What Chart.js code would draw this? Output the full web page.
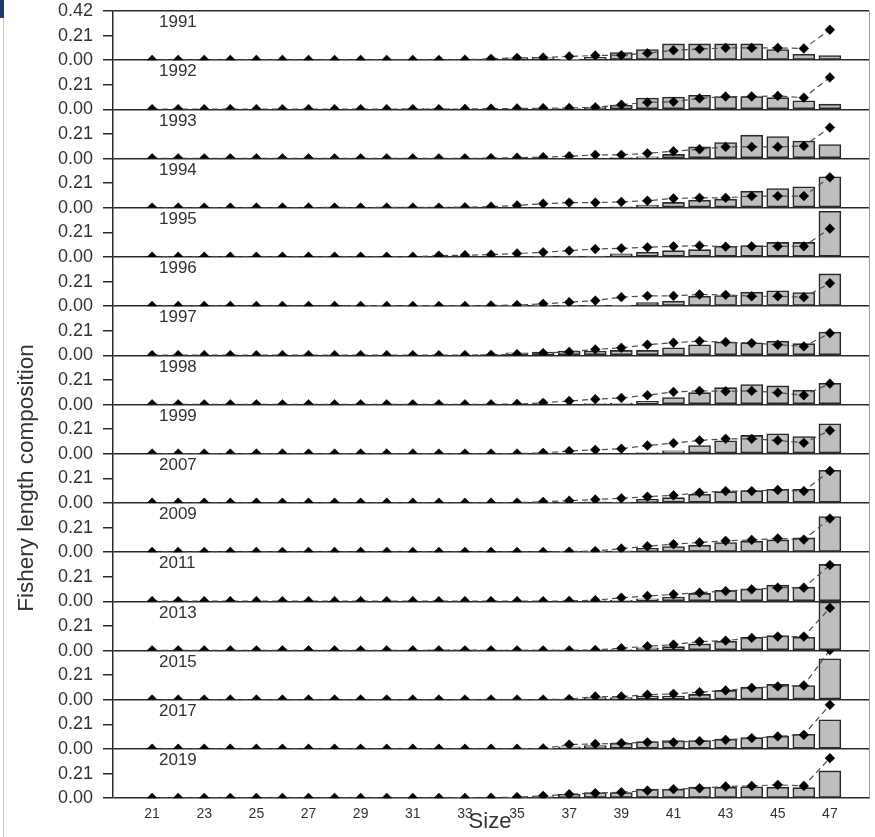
<!DOCTYPE html>
<html>
<head>
<meta charset="utf-8">
<title>Fishery length composition</title>
<script src="https://cdn.jsdelivr.net/npm/chart.js@4.4.1/dist/chart.umd.min.js"></script>
<style>
  html, body { margin: 0; padding: 0; background: #fff; }
  #wrap { position: relative; width: 875px; height: 837px; overflow: hidden; background: #fff; }
  #wrap canvas { position: absolute; left: 0; top: 0; }
  .txt { position: absolute; font-family: "Liberation Sans", Arial, sans-serif; color: #333; white-space: nowrap; }
  #ytitle { width: 320px; height: 22px; line-height: 22px; font-size: 22.5px; text-align: center;
            left: -134.5px; top: 467px; transform: rotate(-90deg); }
  #xtitle { width: 80px; height: 22px; line-height: 22px; font-size: 22px; text-align: center;
            left: 450px; top: 810px; }
  #mark { position: absolute; left: 0; top: 0; width: 4px; height: 18px; background: #1d3a6e; }
  #edge { position: absolute; left: 3px; top: 18px; width: 1px; height: 819px; background: #c9c9c9; }
</style>
</head>
<body>
<div id="wrap">
  <div id="mark"></div>
  <div id="edge"></div>
  <div class="txt" id="ytitle">Fishery length composition</div>
  <div class="txt" id="xtitle">Size</div>
</div>
<script>
// Length classes on the x axis and the labelled ticks
const sizes = [21,22,23,24,25,26,27,28,29,30,31,32,33,34,35,36,37,38,39,40,41,42,43,44,45,46,47];
const xTickLabels = [21,23,25,27,29,31,33,35,37,39,41,43,45,47];
const yTickValues = [0, 0.21, 0.42];
const years = ['1991','1992','1993','1994','1995','1996','1997','1998','1999','2007','2009','2011','2013','2015','2017','2019'];

// Observed proportions (bars) and predicted proportions (diamonds), sizes 21..47
const obs1991  = [0,0,0,0,0,0,0,0,0,0,0,0,0, 0,0.02,0.02,0.008,0.025,0.065,0.091,0.139,0.139,0.139,0.139,0.091,0.051,0.04];
const pred1991 = [0.002,0.002,0.002,0.002,0.002,0.002,0.002,0.002,0.002,0.002,0.002,0.002, 0.004,0.012,0.02,0.022,0.032,0.04,0.043,0.06,0.085,0.095,0.105,0.105,0.105,0.1,0.26];

const obs1992  = [0,0,0,0,0,0,0,0,0,0, 0.008,0.008,0,0,0.008,0.008,0.008,0.02,0.035,0.097,0.105,0.12,0.11,0.11,0.1,0.074,0.045];
const pred1992 = [0.002,0.002,0.002,0.002,0.002,0.002,0.002,0.002,0.002,0.002,0.002,0.002, 0.004,0.006,0.008,0.01,0.012,0.018,0.04,0.06,0.065,0.094,0.11,0.11,0.115,0.1,0.273];

const obs1993  = [0,0,0,0,0,0,0,0,0,0,0,0,0,0,0,0,0,0, 0.008,0.015,0.036,0.1,0.137,0.2,0.188,0.15,0.12];
const pred1993 = [0.002,0.002,0.002,0.002,0.002,0.002,0.002,0.002,0.002,0.002,0.002,0.002,0.002, 0.004,0.008,0.012,0.02,0.032,0.032,0.045,0.063,0.08,0.1,0.1,0.1,0.108,0.265];

const obs1994  = [0,0,0,0,0,0,0, 0.008,0,0.008,0.008,0.008,0.008,0,0,0,0,0,0.008,0.023,0.046,0.065,0.074,0.142,0.165,0.18,0.265];
const pred1994 = [0.002,0.002,0.002,0.002,0.002,0.002,0.002,0.002,0.002,0.002,0.002,0.002, 0.004,0.01,0.02,0.035,0.045,0.045,0.05,0.06,0.08,0.085,0.085,0.1,0.1,0.1,0.26];

const obs1995  = [0,0,0,0,0,0,0,0,0,0,0,0,0,0,0, 0.008,0.008,0.008,0.026,0.04,0.054,0.063,0.091,0.097,0.125,0.125,0.39];
const pred1995 = [0.002,0.002,0.002,0.002,0.002,0.002,0.002,0.002,0.002,0.002,0.002, 0.012,0.015,0.02,0.03,0.04,0.054,0.068,0.074,0.083,0.091,0.097,0.088,0.091,0.091,0.091,0.242];

const obs1996  = [0,0,0,0,0,0,0,0, 0.008,0.008,0.008,0.008,0.008,0.008,0.008,0.008,0.006,0.006,0.008,0.031,0.043,0.085,0.091,0.12,0.131,0.117,0.276];
const pred1996 = [0.002,0.002,0.002,0.002,0.002,0.002,0.002,0.002,0.002,0.002,0.002,0.002,0.002, 0.006,0.01,0.02,0.034,0.048,0.077,0.088,0.088,0.1,0.097,0.085,0.085,0.077,0.196];

const obs1997  = [0,0,0,0,0,0,0,0,0,0,0,0,0, 0.008,0.023,0.028,0.037,0.037,0.043,0.043,0.065,0.091,0.114,0.108,0.122,0.1,0.2];
const pred1997 = [0.002,0.002,0.002,0.002,0.002,0.002,0.002,0.002,0.002,0.002,0.002,0.002, 0.003,0.005,0.01,0.02,0.03,0.051,0.065,0.091,0.108,0.122,0.114,0.105,0.091,0.077,0.19];

const obs1998  = [0,0,0,0,0,0,0,0,0,0,0,0,0,0,0,0,0, 0.008,0.014,0.028,0.06,0.102,0.145,0.171,0.16,0.122,0.182];
const pred1998 = [0.002,0.002,0.002,0.002,0.002,0.002,0.002,0.002,0.002,0.002,0.002,0.002,0.002,0.002, 0.005,0.015,0.031,0.046,0.057,0.08,0.108,0.117,0.114,0.117,0.102,0.08,0.179];

const obs1999  = [0,0,0,0,0,0,0,0,0,0,0,0,0,0,0, 0.006,0.006,0,0,0.011,0.026,0.071,0.111,0.157,0.171,0.148,0.256];
const pred1999 = [0.002,0.002,0.002,0.002,0.002,0.002,0.002,0.002,0.002,0.002,0.002,0.002,0.002,0.002,0.002, 0.008,0.023,0.034,0.043,0.071,0.091,0.114,0.128,0.128,0.114,0.094,0.199];

const obs2007  = [0,0,0,0,0,0,0,0,0,0,0,0,0,0,0, 0.006,0.008,0.011,0.008,0.031,0.046,0.074,0.097,0.105,0.117,0.117,0.279];
const pred2007 = [0.002,0.002,0.002,0.002,0.002,0.002,0.002,0.002,0.002,0.002,0.002,0.002,0.002,0.002, 0.004,0.01,0.02,0.03,0.04,0.054,0.065,0.088,0.102,0.102,0.111,0.102,0.273];

const obs2009  = [0,0,0,0,0,0,0,0,0,0,0,0,0,0,0,0, 0.008,0.008,0.011,0.034,0.048,0.06,0.083,0.094,0.105,0.122,0.305];
const pred2009 = [0.002,0.002,0.002,0.002,0.002,0.002,0.002,0.002,0.002,0.002,0.002,0.002,0.002,0.002,0.002,0.002, 0.005,0.01,0.031,0.051,0.068,0.083,0.097,0.105,0.117,0.108,0.287];

const obs2011  = [0,0,0,0,0,0,0,0,0,0,0,0,0,0,0,0,0, 0.006,0.01,0.023,0.037,0.068,0.094,0.108,0.139,0.122,0.316];
const pred2011 = [0.002,0.002,0.002,0.002,0.002,0.002,0.002,0.002,0.002,0.002,0.002,0.002,0.002,0.002,0.002,0.002, 0.004,0.01,0.031,0.046,0.06,0.074,0.088,0.102,0.117,0.117,0.31];

const obs2013  = [0,0,0,0,0,0,0,0,0,0,0, 0.008,0.008,0.006,0.006,0.006,0.006,0.006,0.008,0.023,0.034,0.057,0.08,0.114,0.128,0.114,0.415];
const pred2013 = [0.002,0.002,0.002,0.002,0.002,0.002,0.002,0.002,0.002,0.002,0.002,0.002,0.002,0.002,0.002,0.002,0.002, 0.006,0.02,0.037,0.051,0.077,0.085,0.108,0.12,0.12,0.364];

const obs2015  = [0,0,0,0,0,0,0,0,0,0,0,0, 0.006,0.006,0.006,0.006,0.006,0.02,0.02,0.031,0.031,0.046,0.08,0.108,0.131,0.122,0.35];
const pred2015 = [0.002,0.002,0.002,0.002,0.002,0.002,0.002,0.002,0.002,0.002,0.002,0.002,0.002,0.002,0.002,0.002, 0.006,0.028,0.028,0.043,0.051,0.065,0.08,0.102,0.114,0.122,0.425];

const obs2017  = [0,0,0,0,0,0,0,0,0,0,0,0,0,0,0, 0.006,0.018,0.03,0.05,0.063,0.072,0.072,0.084,0.097,0.11,0.126,0.249];
const pred2017 = [0.002,0.002,0.002,0.002,0.002,0.002,0.002,0.002,0.002,0.002,0.002,0.002,0.002,0.002,0.002, 0.005,0.038,0.043,0.05,0.057,0.057,0.067,0.078,0.093,0.107,0.121,0.377];

const obs2019  = [0,0,0,0,0,0,0,0,0,0,0,0, 0.006,0,0.006,0.014,0.034,0.048,0.048,0.077,0.077,0.094,0.094,0.097,0.094,0.09,0.233];
const pred2019 = [0.002,0.002,0.002,0.002,0.002,0.002,0.002,0.002,0.002,0.002,0.002,0.002,0.002, 0.004,0.01,0.02,0.034,0.043,0.051,0.065,0.077,0.085,0.1,0.105,0.114,0.105,0.342];

const observed = [obs1991, obs1992, obs1993, obs1994, obs1995, obs1996, obs1997, obs1998,
                  obs1999, obs2007, obs2009, obs2011, obs2013, obs2015, obs2017, obs2019];
const predicted = [pred1991, pred1992, pred1993, pred1994, pred1995, pred1996, pred1997, pred1998,
                   pred1999, pred2007, pred2009, pred2011, pred2013, pred2015, pred2017, pred2019];

// Page geometry: one stacked panel per year, all sharing the same x range
const W = 875, H = 837;
const PANEL_TOP = 11, PANEL_H = 49.2;
const AXIS_W = 113, RIGHT_PAD = 6, XAXIS_H = 26;
const INK = '#2a2a2a', TEXT = '#333';

Chart.defaults.font.family = '"Liberation Sans", Arial, sans-serif';

// Year caption in the top-left corner of each panel
const yearCaption = {
  id: 'yearCaption',
  afterDraw(chart, args, opts) {
    const { ctx, chartArea } = chart;
    ctx.save();
    ctx.font = '17px "Liberation Sans", Arial, sans-serif';
    ctx.fillStyle = TEXT;
    ctx.textAlign = 'left';
    ctx.textBaseline = 'middle';
    ctx.fillText(opts.text, chartArea.left + 46, chartArea.top + 11.5);
    ctx.restore();
  }
};

const wrap = document.getElementById('wrap');

years.forEach((year, i) => {
  const canvas = document.createElement('canvas');
  canvas.width = W;
  canvas.height = H;
  wrap.insertBefore(canvas, document.getElementById('ytitle'));

  const top = PANEL_TOP + i * PANEL_H;
  const bottom = top + PANEL_H;
  const isFirst = i === 0;
  const isLast = i === years.length - 1;
  const yTicks = isFirst ? yTickValues : yTickValues.slice(0, 2);

  new Chart(canvas, {
    type: 'bar',
    data: {
      datasets: [
        {
          type: 'line',
          order: 0,
          clip: 0,
          data: sizes.map((s, k) => ({ x: s, y: predicted[i][k] })),
          borderColor: '#4d4d4d',
          borderWidth: 1.2,
          borderDash: [6, 4],
          tension: 0,
          fill: false,
          pointStyle: 'rectRot',
          pointRadius: 4.9,
          pointBackgroundColor: '#000',
          pointBorderColor: '#000',
          pointBorderWidth: 0.5
        },
        {
          type: 'bar',
          order: 1,
          clip: 0,
          data: sizes.map((s, k) => ({ x: s, y: observed[i][k] })),
          backgroundColor: '#bebebe',
          borderColor: INK,
          borderWidth: 1.6,
          borderSkipped: false,
          barThickness: 22
        }
      ]
    },
    options: {
      responsive: false,
      animation: false,
      devicePixelRatio: 1,
      events: [],
      layout: {
        padding: {
          top: top,
          bottom: isLast ? H - bottom - XAXIS_H : H - bottom,
          left: 0,
          right: RIGHT_PAD
        }
      },
      plugins: {
        legend: { display: false },
        tooltip: { enabled: false },
        yearCaption: { text: year }
      },
      scales: {
        x: {
          type: 'linear',
          min: 19.5,
          max: 48.5,
          offset: false,
          display: isLast,
          grid: { display: false, offset: false },
          border: { display: false },
          afterBuildTicks: s => { s.ticks = xTickLabels.map(v => ({ value: v })); },
          afterFit: s => {
            s.height = isLast ? XAXIS_H : 0;
            s.paddingLeft = 0;
            s.paddingRight = 0;
          },
          ticks: {
            autoSkip: false,
            maxRotation: 0,
            padding: 0,
            color: TEXT,
            font: { size: 14 }
          }
        },
        y: {
          type: 'linear',
          position: 'left',
          min: 0,
          max: 0.42,
          afterBuildTicks: s => { s.ticks = yTicks.map(v => ({ value: v })); },
          afterFit: s => {
            // panels sit edge to edge, so tick labels may overhang the plot area
            s.width = AXIS_W;
            s.paddingTop = 0;
            s.paddingBottom = 0;
          },
          ticks: {
            autoSkip: false,
            padding: 10,
            color: TEXT,
            font: { size: 18 },
            callback: v => Number(v).toFixed(2)
          },
          grid: {
            color: c => (c.tick && (c.tick.value === 0 || c.tick.value === 0.42)) ? INK : 'rgba(0,0,0,0)',
            tickColor: INK,
            tickLength: 10,
            lineWidth: 1.5
          },
          border: { display: true, color: INK, width: 1.5 }
        },
        yr: {
          type: 'linear',
          position: 'right',
          display: true,
          ticks: { display: false },
          grid: { drawOnChartArea: false, drawTicks: false },
          border: { display: true, color: '#9a9a9a', width: 1 },
          afterFit: s => { s.width = 0; s.paddingTop = 0; s.paddingBottom = 0; }
        }
      }
    },
    plugins: [yearCaption]
  });
});
</script>
</body>
</html>
